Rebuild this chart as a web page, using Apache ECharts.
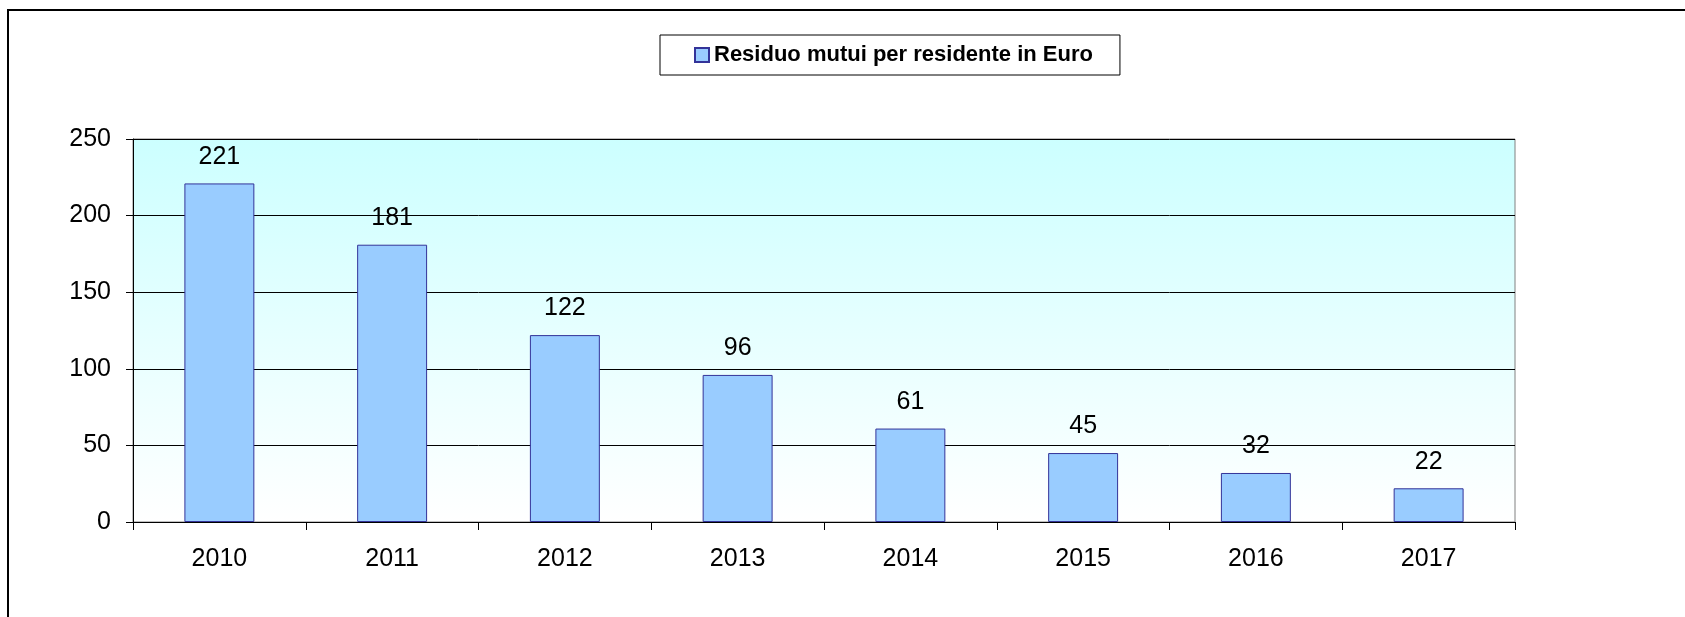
<!DOCTYPE html>
<html>
<head>
<meta charset="utf-8">
<script src="https://cdn.jsdelivr.net/npm/echarts@6/dist/echarts.min.js"></script>
<style>
html,body{margin:0;padding:0;background:#fff;overflow:hidden;}
#chart{width:1685px;height:617px;}
</style>
</head>
<body>
<div id="chart"></div>
<script>
const categories = ['2010','2011','2012','2013','2014','2015','2016','2017'];
const values = [221, 181, 122, 96, 61, 45, 32, 22];
const seriesName = 'Residuo mutui per residente in Euro';
const yMin = 0, yMax = 250, yInterval = 50;

const numFont = "'Liberation Sans', Arial, sans-serif";
const chart = echarts.init(document.getElementById('chart'), null, {renderer: 'canvas'});
chart.setOption({
  animation: false,
  backgroundColor: '#ffffff',
  graphic: [{
    type: 'polyline',
    shape: {points: [[1720, 10], [8, 10], [8, 660]]},
    style: {fill: 'none', stroke: '#000', lineWidth: 2},
    z: 100,
    silent: true
  }],
  legend: {
    left: 660, top: 35,
    padding: [9, 27, 9, 34],
    borderColor: '#000', borderWidth: 1,
    icon: 'rect',
    itemWidth: 14, itemHeight: 14,
    itemGap: 5,
    textStyle: {fontFamily: "'Liberation Sans', Arial, sans-serif", fontWeight: 'bold', fontSize: 22, color: '#000'},
    data: [seriesName]
  },
  grid: {
    left: 133, right: 170, top: 139, bottom: 95,
    show: true,
    borderColor: '#808080', borderWidth: 1,
    backgroundColor: new echarts.graphic.LinearGradient(0, 0, 0, 1, [
      {offset: 0, color: '#ccffff'},
      {offset: 1, color: '#ffffff'}
    ])
  },
  xAxis: {
    type: 'category',
    data: categories,
    axisLine: {lineStyle: {color: '#000', width: 1}},
    axisTick: {show: true, length: 8, lineStyle: {color: '#000'}},
    axisLabel: {fontFamily: numFont, fontSize: 25, color: '#000', margin: 25}
  },
  yAxis: {
    type: 'value',
    min: yMin, max: yMax, interval: yInterval,
    axisLine: {show: true, lineStyle: {color: '#000', width: 1}},
    axisTick: {show: true, length: 7, lineStyle: {color: '#000'}},
    splitLine: {show: true, lineStyle: {color: '#000', width: 1}},
    axisLabel: {fontFamily: numFont, fontSize: 25, color: '#000', margin: 22}
  },
  series: [{
    name: seriesName,
    type: 'bar',
    data: values,
    barWidth: '40.5%',
    itemStyle: {color: '#99ccff', borderColor: '#333399', borderWidth: 1},
    label: {
      show: true, position: 'top', distance: 14,
      fontFamily: numFont, fontSize: 25, color: '#000'
    }
  }]
});
</script>
</body>
</html>
